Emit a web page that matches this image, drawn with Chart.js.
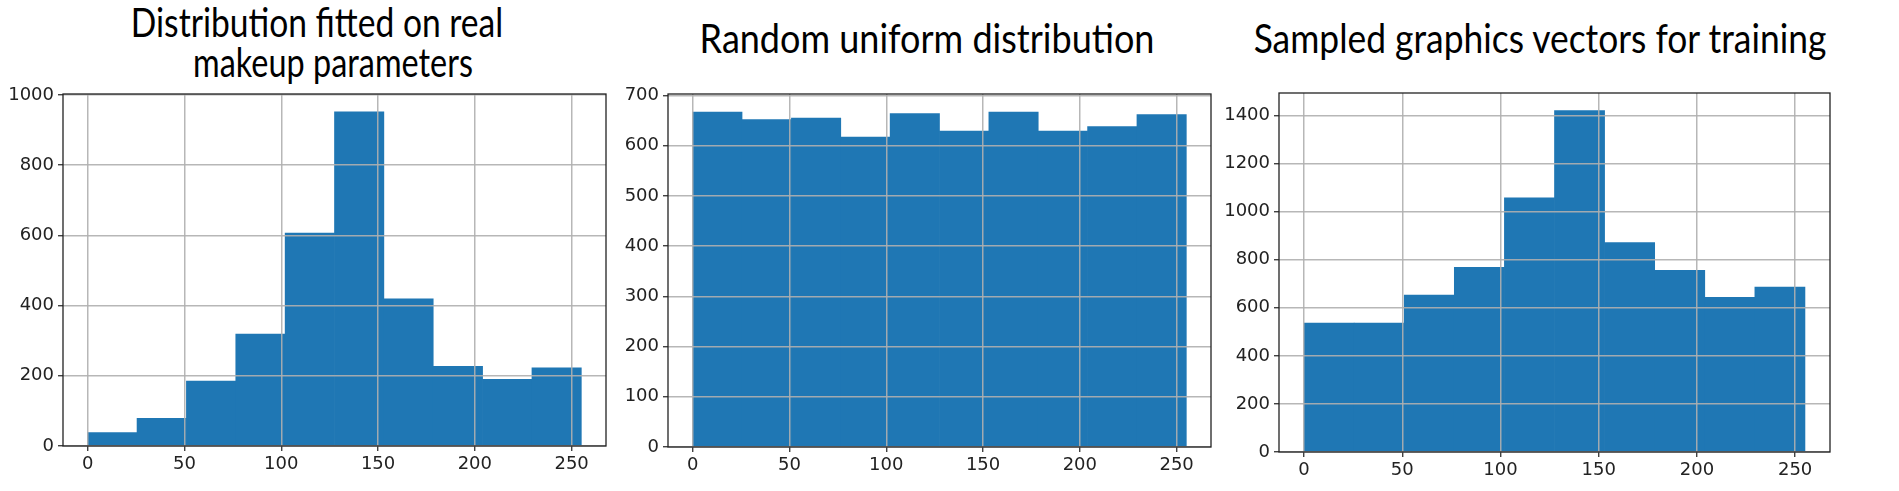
<!DOCTYPE html>
<html>
<head>
<meta charset="utf-8">
<script src="https://cdn.jsdelivr.net/npm/chart.js@4.4.1/dist/chart.umd.min.js"></script>
<style>
  body { margin: 0; background: #fff; width: 1899px; height: 491px; position: relative; overflow: hidden; }
  .ttl { position: absolute; font-family: Lato, "Open Sans", sans-serif; font-size: 40px; line-height: 40px;
         color: #000; white-space: nowrap; }
  canvas { position: absolute; top: 0; }
</style>
</head>
<body>
<div class="ttl" id="t1a" style="left:317px; top:2px; transform:translateX(-50%) scaleX(0.84);"></div>
<div class="ttl" id="t1b" style="left:333px; top:42px; transform:translateX(-50%) scaleX(0.81);"></div>
<div class="ttl" id="t2" style="left:927px; top:18px; transform:translateX(-50%) scaleX(0.90);"></div>
<div class="ttl" id="t3" style="left:1540px; top:18px; transform:translateX(-50%) scaleX(0.885);"></div>

<canvas id="c1" width="615" height="491" style="left:0px"></canvas>
<canvas id="c2" width="600" height="491" style="left:615px"></canvas>
<canvas id="c3" width="684" height="491" style="left:1215px"></canvas>

<script>
// histogram bins (10 bins over 0..255)
const binCenters = [12.75, 38.25, 63.75, 89.25, 114.75, 140.25, 165.75, 191.25, 216.75, 242.25];
const fittedCounts  = [38, 79, 185, 319, 607, 952, 419, 227, 190, 223];
const uniformCounts = [667, 652, 655, 617, 664, 629, 667, 629, 638, 662];
const sampledCounts = [536, 536, 653, 769, 1058, 1421, 872, 756, 644, 686];

const xTicks = [0, 50, 100, 150, 200, 250];
const fittedTicks  = [0, 200, 400, 600, 800, 1000];
const uniformTicks = [0, 100, 200, 300, 400, 500, 600, 700];
const sampledTicks = [0, 200, 400, 600, 800, 1000, 1200, 1400];

const titles = ['Distribution fitted on real', 'makeup parameters',
                'Random uniform distribution', 'Sampled graphics vectors for training'];

document.getElementById('t1a').textContent = titles[0];
document.getElementById('t1b').textContent = titles[1];
document.getElementById('t2').textContent = titles[2];
document.getElementById('t3').textContent = titles[3];

// black frame round the plot area, like matplotlib spines
const frame = {
  id: 'frame',
  afterDraw(chart) {
    const a = chart.chartArea, ctx = chart.ctx;
    ctx.save();
    ctx.strokeStyle = '#222';
    ctx.lineWidth = 1.3;
    ctx.strokeRect(a.left, a.top, a.right - a.left, a.bottom - a.top);
    ctx.restore();
  }
};

function histo(id, counts, yTicks, yMax, lay) {
  const ctx = document.getElementById(id);
  const font = { family: '"DejaVu Sans", sans-serif', size: lay.fs };
  return new Chart(ctx, {
    type: 'bar',
    data: {
      datasets: [{
        data: binCenters.map((c, i) => ({ x: c, y: counts[i] })),
        backgroundColor: '#1f77b4',
        borderWidth: 0,
        barPercentage: 1,
        categoryPercentage: 1
      }]
    },
    options: {
      responsive: false,
      animation: false,
      layout: { padding: { top: lay.top, right: lay.right, left: 0, bottom: 0 } },
      plugins: { legend: { display: false }, tooltip: { enabled: false } },
      scales: {
        x: {
          type: 'linear',
          min: -12.75,
          max: 267.75,
          offset: false,
          afterBuildTicks: s => { s.ticks = xTicks.map(v => ({ value: v })); },
          afterFit: s => { s.height = lay.xh; },
          ticks: { color: '#222', font: font, padding: 3, maxRotation: 0, callback: v => String(v) },
          grid: { offset: false, color: 'rgba(175,175,175,0.9)', lineWidth: 1.5, z: 1,
                  drawTicks: true, tickLength: 5, tickColor: '#222', tickWidth: 1.2 },
          border: { display: false }
        },
        y: {
          min: 0,
          max: yMax,
          afterBuildTicks: s => { s.ticks = yTicks.map(v => ({ value: v })); },
          afterFit: s => { s.width = lay.yw; },
          ticks: { color: '#222', font: font, padding: 4, callback: v => String(v) },
          grid: { color: 'rgba(175,175,175,0.9)', lineWidth: 1.5, z: 1,
                  drawTicks: true, tickLength: 5, tickColor: '#222', tickWidth: 1.2 },
          border: { display: false }
        }
      }
    },
    plugins: [frame]
  });
}

histo('c1', fittedCounts, fittedTicks, 1003, { top: 94, right: 9, yw: 63, xh: 45, fs: 18 });
histo('c2', uniformCounts, uniformTicks, 703, { top: 94, right: 4, yw: 53, xh: 44, fs: 18 });
histo('c3', sampledCounts, sampledTicks, 1494, { top: 93, right: 69, yw: 64, xh: 39, fs: 18 });
</script>
</body>
</html>
